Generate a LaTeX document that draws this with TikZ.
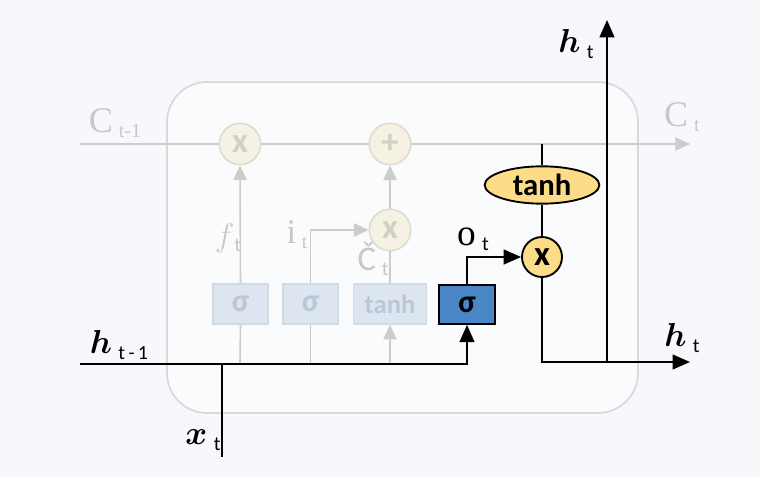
\documentclass[tikz,border=0pt]{standalone}
\usepackage{fontspec}
\usepackage{amsmath}
\setmainfont{Carlito}
\newfontfamily\serifC{Liberation Serif}
\usetikzlibrary{arrows.meta,shapes.geometric}
\definecolor{bgcol}{HTML}{F7F8FB}
\definecolor{boxcol}{HTML}{D9D9D9}
\definecolor{gline}{HTML}{CCCCCC}
\definecolor{gtext}{HTML}{C8C8C8}
\definecolor{gcircfill}{HTML}{F6F2E3}
\definecolor{gcircdraw}{HTML}{DEDBCF}
\definecolor{gcirctext}{HTML}{D3CFC2}
\definecolor{gsigfill}{HTML}{DDE6F0}
\definecolor{gsigdraw}{HTML}{D2DAE3}
\definecolor{gsigtext}{HTML}{B9C7D6}
\definecolor{bluefill}{HTML}{4A86C6}
\definecolor{yellowfill}{HTML}{FCDC86}
\tikzset{
  gl/.style={draw=gline,line width=1.2pt},
  garr/.style={gl,-{Triangle[length=11pt,width=10pt]}},
  bl/.style={draw=black,line width=1.6pt},
  barr/.style={bl,-{Triangle[length=13pt,width=11pt]}},
  gcirc/.style={circle,draw=gcircdraw,fill=gcircfill,line width=1.2pt,minimum size=31pt,inner sep=0pt,text=gcirctext,font=\fontsize{26}{26}\selectfont\bfseries},
  gsig/.style={rectangle,draw=gsigdraw,fill=gsigfill,line width=1.2pt,minimum width=41pt,minimum height=30pt,inner sep=0pt,text=gsigtext,font=\fontsize{24}{24}\selectfont\bfseries},
  bsig/.style={rectangle,draw=black,fill=bluefill,line width=1.4pt,minimum width=42pt,minimum height=29pt,inner sep=0pt,text=black,font=\fontsize{24}{24}\selectfont\bfseries},
  ycirc/.style={circle,draw=black,fill=yellowfill,line width=1.4pt,minimum size=30pt,inner sep=0pt,font=\fontsize{26}{26}\selectfont\bfseries},
  yell/.style={ellipse,draw=black,fill=yellowfill,line width=1.4pt,minimum width=86pt,minimum height=28pt,inner sep=0pt,font=\fontsize{23}{23}\selectfont\bfseries},
  glab/.style={text=gtext,inner sep=0pt},
  blab/.style={text=black,inner sep=0pt},
}
\newcommand\sub[1]{\raisebox{-0.3ex}{\fontsize{15}{15}\selectfont #1}}
\newcommand\bmi[1]{\mbox{\boldmath$#1$}}
\begin{document}
\begin{tikzpicture}[x=0.75pt,y=-0.75pt]
\fill[bgcol] (0,0) rectangle (760,477);
\useasboundingbox (0,0) rectangle (760,477);
% cell box
\draw[draw=boxcol,line width=1.3pt,fill=bgcol!60!white,rounded corners=30pt] (167,82) rectangle (638,413);
% faded nodes
\node[gcirc] (fx) at (240,144) {x};
\node[gcirc] (plus) at (390,144) {+};
\node[gcirc] (ix) at (390,230) {x};
\node[gsig] (s1) at (240.5,304) {σ};
\node[gsig] (s2) at (310.5,304) {σ};
\node[gsig,minimum width=55pt,font=\fontsize{20}{20}\selectfont\bfseries] (tb) at (390,304) {tanh};
% active nodes
\node[bsig] (so) at (467,304.5) {σ};
\node[ycirc] (ox) at (542,257) {x};
\node[yell] (te) at (542,185) {tanh};
% coordinates
\coordinate (cin) at (80,144);
\coordinate (cout) at (690,144);
\coordinate (ctap) at (542,144);
\coordinate (hin) at (80,364);
\coordinate (hout) at (690,362);
\coordinate (hup) at (607,20);
\coordinate (hsplit) at (607,362);
\coordinate (xbot) at (222,457);
\coordinate (xtop) at (222,364);
\coordinate (f0) at (240,364);
\coordinate (i0) at (310.5,364);
\coordinate (g0) at (390,364);
% faded connectors
\draw[gl] (cin) -- (fx.west);
\draw[gl] (fx.east) -- (plus.west);
\draw[garr] (plus.east) -- (cout);
\draw[gl] (f0) -- (s1.south);
\draw[garr] (s1.north) -- (fx.south);
\draw[gl] (i0) -- (s2.south);
\draw[garr] (s2.north) |- (ix.west);
\draw[garr] (g0) -- (tb.south);
\draw[gl] (tb.north) -- (ix.south);
\draw[garr] (ix.north) -- (plus.south);
% faded labels
\node[glab] (lc1) at (115,123) {\fontsize{27}{27}\selectfont\serifC C\,\sub{t-1}};
\node[glab] (lc2) at (682,117) {\fontsize{27}{27}\selectfont\serifC C\,\sub{t}};
\node[glab] (lf) at (228,238) {\fontsize{26}{26}\selectfont $f$\sub{t}};
\node[glab] (li) at (297,235) {\fontsize{26}{26}\selectfont\serifC i\,\sub{t}};
\node[glab] (lg) at (373,259) {\fontsize{26}{26}\selectfont \v{C}\,\sub{t}};
% active connectors
\draw[barr] (hin) -| (so.south);
\draw[bl] (xtop) -- (xbot);
\draw[barr] (so.north) |- (ox.west);
\draw[bl] (ctap) -- (te.north);
\draw[bl] (te.south) -- (ox.north);
\draw[barr] (ox.south) |- (hout);
\draw[barr] (hsplit) -- (hup);
% active labels
\node[blab] (lo) at (473,239) {\fontsize{28}{28}\selectfont\serifC o\,\sub{\rmfamily t}};
\node[blab] (lh1) at (576,44) {\fontsize{29}{29}\selectfont \bmi{h}\,\sub{t}};
\node[blab] (lh2) at (682,338) {\fontsize{29}{29}\selectfont \bmi{h}\,\sub{t}};
\node[blab] (lh0) at (119,345) {\fontsize{29}{29}\selectfont \bmi{h}\,\sub{t\,-\,1}};
\node[blab] (lx) at (203,440) {\fontsize{29}{29}\selectfont \bmi{x}\,\sub{t}};
\end{tikzpicture}
\end{document}
